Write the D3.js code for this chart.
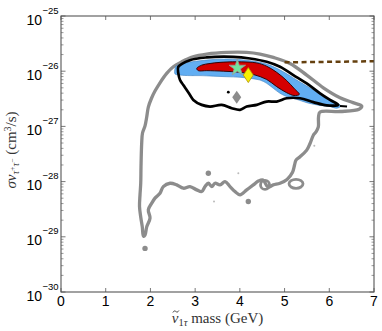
<!DOCTYPE html>
<html lang="en">
<head>
<meta charset="UTF-8">
<title>Sneutrino mass vs cross section</title>
<script src="https://d3js.org/d3.v7.min.js"></script>
<style>
  body { margin: 0; background: #fff; }
  svg { display: block; }
  .tick-label { font-family: "Liberation Sans", Arial, sans-serif; fill: #000; }
  .axis-title { font-family: "Liberation Serif", "DejaVu Serif", serif; fill: #333; }
</style>
</head>
<body>
<script>
// axis setup
const xTicks = [0, 1, 2, 3, 4, 5, 6, 7];
const yDecades = [-30, -29, -28, -27, -26, -25];

// contours as [mass (GeV), log10(sigma v)]
const greyContour = [
  [1.845, -28.99], [1.818, -28.82], [1.783, -28.64], [1.756, -28.45], [1.767, -28.24],
  [1.783, -28.03], [1.789, -27.74], [1.805, -27.30], [1.823, -27.12], [1.879, -26.99],
  [1.917, -26.83], [1.953, -26.65], [2.024, -26.49], [2.102, -26.36], [2.214, -26.21],
  [2.364, -26.04], [2.512, -25.92], [2.700, -25.83], [2.952, -25.74], [3.259, -25.69],
  [3.706, -25.66], [4.153, -25.66], [4.451, -25.69], [4.748, -25.75], [5.122, -25.86],
  [5.495, -26.07], [5.867, -26.30], [6.240, -26.48], [6.531, -26.57], [6.726, -26.63],
  [6.665, -26.69], [6.240, -26.73], [5.793, -26.74], [5.759, -26.83], [5.755, -27.01],
  [5.703, -27.10], [5.643, -27.16], [5.569, -27.31], [5.495, -27.43], [5.346, -27.55],
  [5.256, -27.61], [5.223, -27.70], [5.178, -27.83], [5.055, -27.96], [4.898, -28.03],
  [4.748, -28.06], [4.630, -28.10], [4.518, -27.97], [4.413, -27.99], [4.301, -28.06],
  [4.153, -28.15], [4.004, -28.24], [3.892, -28.18], [3.780, -28.09], [3.668, -28.00],
  [3.556, -28.06], [3.444, -28.03], [3.371, -28.09], [3.295, -28.03], [3.221, -28.09],
  [3.147, -28.18], [3.035, -28.15], [2.885, -28.09], [2.735, -28.12], [2.588, -28.06],
  [2.438, -28.03], [2.288, -28.09], [2.214, -28.21], [2.102, -28.30], [2.029, -28.39],
  [1.953, -28.51], [1.991, -28.66], [1.917, -28.82], [1.879, -28.97]
];

// little closed loops and specks of the grey contour: [mass, log10, rx, ry]
const greyLoops = [
  [5.256, -28.04, 7, 4.5],
  [4.563, -28.06, 4.5, 4.5]
];
const greyDots = [
  [4.189, -28.36], [3.295, -27.85], [1.879, -29.21]
];
const greySpecks = [
  [3.966, -27.85], [3.422, -28.36], [5.665, -27.35]
];

const blackContour = [
  [2.624, -25.92], [2.885, -25.80], [3.259, -25.75], [3.854, -25.74], [4.227, -25.77],
  [4.601, -25.83], [4.898, -25.92], [5.196, -26.07], [5.495, -26.22], [5.793, -26.40],
  [6.017, -26.52], [6.202, -26.61], [5.943, -26.62], [5.643, -26.56], [5.346, -26.49],
  [5.048, -26.49], [4.824, -26.55], [4.601, -26.55], [4.377, -26.61], [4.153, -26.64],
  [4.004, -26.70], [3.818, -26.67], [3.594, -26.61], [3.333, -26.64], [3.147, -26.61],
  [2.959, -26.52], [2.885, -26.43], [2.811, -26.34], [2.735, -26.25], [2.662, -26.16],
  [2.624, -26.04]
];
const blackTail = [[6.240, -26.63], [6.397, -26.64]];
const blackDot = [3.742, -26.38];

const blueRegion = [
  [2.550, -25.95], [2.572, -25.91], [2.735, -25.86], [3.109, -25.81], [3.706, -25.78],
  [4.227, -25.81], [4.601, -25.87], [4.972, -26.01], [5.272, -26.16], [5.643, -26.34],
  [5.943, -26.49], [6.166, -26.58], [6.263, -26.63], [6.166, -26.67], [6.017, -26.64],
  [5.793, -26.62], [5.495, -26.57], [5.272, -26.51], [5.048, -26.46], [4.898, -26.40],
  [4.748, -26.31], [4.601, -26.22], [4.451, -26.16], [4.227, -26.13], [4.004, -26.11],
  [3.706, -26.10], [3.406, -26.09], [3.109, -26.08], [2.885, -26.08], [2.662, -26.07],
  [2.550, -26.05]
];

const redRegion = [
  [3.035, -25.95], [3.147, -25.89], [3.333, -25.86], [3.556, -25.84], [3.930, -25.83],
  [4.377, -25.85], [4.601, -25.91], [4.824, -26.02], [5.048, -26.17], [5.211, -26.31],
  [5.330, -26.42], [5.211, -26.44], [5.048, -26.39], [4.824, -26.28], [4.601, -26.15],
  [4.301, -26.06], [4.004, -26.02], [3.630, -26.00], [3.259, -25.99], [3.071, -25.99]
];

// best fit points
const starPoint = [3.943, -25.94];
const yellowDiamond = [4.189, -26.07];
const greyDiamond = [3.930, -26.47];

// dashed limit line
const limitLine = [[5.0, -25.84], [7.0, -25.82]];

const W = 382, H = 331;
const margin = {top: 16, right: 8, bottom: 39, left: 61};

const svg = d3.select("body").append("svg")
  .attr("width", W)
  .attr("height", H);

const x = d3.scaleLinear().domain([0, 7]).range([margin.left, W - margin.right]);
const y = d3.scaleLog().domain([1e-30, 1e-25]).range([H - margin.bottom, margin.top]);
const px = d => x(d[0]);
const py = d => y(Math.pow(10, d[1]));

const closedLine = d3.line().x(px).y(py).curve(d3.curveCatmullRomClosed.alpha(0.5));

// grey outer contour
const plot = svg.append("g");
plot.append("path")
  .attr("d", closedLine(greyContour))
  .attr("fill", "none")
  .attr("stroke", "#8c8c8c")
  .attr("stroke-width", 3.3)
  .attr("stroke-linejoin", "round");

plot.selectAll(".loop").data(greyLoops).enter().append("ellipse")
  .attr("cx", px).attr("cy", py)
  .attr("rx", d => d[2]).attr("ry", d => d[3])
  .attr("fill", "none").attr("stroke", "#8c8c8c").attr("stroke-width", 2.8);

plot.selectAll(".gdot").data(greyDots).enter().append("circle")
  .attr("cx", px).attr("cy", py).attr("r", 2.7).attr("fill", "#8c8c8c");

plot.selectAll(".gspeck").data(greySpecks).enter().append("circle")
  .attr("cx", px).attr("cy", py).attr("r", 1).attr("fill", "#bbb");

// blue region
plot.append("path")
  .attr("d", closedLine(blueRegion))
  .attr("fill", "#62aef2")
  .attr("stroke", "#3d7fc0")
  .attr("stroke-width", 0.6);

// black contour
plot.append("path")
  .attr("d", closedLine(blackContour))
  .attr("fill", "none")
  .attr("stroke", "#000")
  .attr("stroke-width", 2.7)
  .attr("stroke-linejoin", "round");

plot.append("path")
  .attr("d", d3.line().x(px).y(py)(blackTail))
  .attr("stroke", "#000").attr("stroke-width", 2);

plot.append("circle")
  .attr("cx", px(blackDot)).attr("cy", py(blackDot)).attr("r", 1.4).attr("fill", "#000");

// red region
plot.append("path")
  .attr("d", closedLine(redRegion))
  .attr("fill", "#d40000")
  .attr("stroke", "#200")
  .attr("stroke-width", 0.9);

// dashed line
plot.append("path")
  .attr("d", d3.line().x(px).y(py)(limitLine))
  .attr("stroke", "#65400f")
  .attr("stroke-width", 2.5)
  .attr("stroke-dasharray", "5,3.5")
  .attr("fill", "none");

// markers
const diamond = (w, h) => `M0,${-h}L${w},0L0,${h}L${-w},0Z`;
plot.append("path")
  .attr("d", diamond(4.5, 6.5))
  .attr("transform", `translate(${px(greyDiamond)},${py(greyDiamond)})`)
  .attr("fill", "#8c8c8c");

plot.append("path")
  .attr("d", diamond(5, 7.5))
  .attr("transform", `translate(${px(yellowDiamond)},${py(yellowDiamond)})`)
  .attr("fill", "#f7f000")
  .attr("stroke", "#b09000")
  .attr("stroke-width", 0.8);

plot.append("path")
  .attr("d", d3.symbol().type(d3.symbolStar).size(85)())
  .attr("transform", `translate(${px(starPoint)},${py(starPoint)})`)
  .attr("fill", "#72e39c")
  .attr("stroke", "#9a9a9a")
  .attr("stroke-width", 0.8);

// frame
const x0 = x.range()[0], x1 = x.range()[1];
const y0 = y.range()[0], y1 = y.range()[1];
const axes = svg.append("g").attr("stroke", "#555").attr("fill", "none");
axes.append("rect")
  .attr("x", x0).attr("y", y1)
  .attr("width", x1 - x0).attr("height", y0 - y1)
  .attr("stroke-width", 1.1);

// x ticks (inward, bottom and top)
xTicks.forEach(t => {
  axes.append("line").attr("x1", x(t)).attr("x2", x(t)).attr("y1", y0).attr("y2", y0 - 4).attr("stroke-width", 0.8);
  axes.append("line").attr("x1", x(t)).attr("x2", x(t)).attr("y1", y1).attr("y2", y1 + 4).attr("stroke-width", 0.8);
});

// y ticks, major and minor, on both sides
yDecades.forEach(d => {
  const v = Math.pow(10, d);
  [[x0, 1], [x1, -1]].forEach(([xx, s]) => {
    axes.append("line").attr("x1", xx).attr("x2", xx + s * 4.5).attr("y1", y(v)).attr("y2", y(v)).attr("stroke-width", 0.8);
  });
  if (d < -25) {
    for (let k = 2; k <= 9; k++) {
      const yy = y(k * v);
      [[x0, 1], [x1, -1]].forEach(([xx, s]) => {
        axes.append("line").attr("x1", xx).attr("x2", xx + s * 2.5).attr("y1", yy).attr("y2", yy).attr("stroke-width", 0.6);
      });
    }
  }
});

// tick labels
svg.selectAll(".xl").data(xTicks).enter().append("text")
  .attr("class", "tick-label")
  .attr("x", d => x(d)).attr("y", y0 + 13.5)
  .attr("text-anchor", "middle")
  .attr("font-size", 14)
  .text(d => d);

yDecades.forEach(d => {
  const yy = y(Math.pow(10, d));
  svg.append("text").attr("class", "tick-label")
    .attr("x", 42).attr("y", yy + 8.5)
    .attr("text-anchor", "end").attr("font-size", 14).text("10");
  svg.append("text").attr("class", "tick-label")
    .attr("x", 42.5).attr("y", yy - 2.5)
    .attr("font-size", 9.5).text("\u2212" + (-d));
});

// axis titles
const xt = svg.append("text").attr("class", "axis-title")
  .attr("x", (x0 + x1) / 2).attr("y", 323)
  .attr("text-anchor", "middle").attr("font-size", 15);
xt.append("tspan").attr("font-style", "italic").text("\u03bd");
xt.append("tspan").attr("font-size", 10.5).attr("dy", 3).text("1");
xt.append("tspan").attr("font-size", 10.5).attr("font-style", "italic").text("\u03c4");
xt.append("tspan").attr("dy", -3).text(" mass (GeV)");

// tilde accent over the nu, drawn as a small stroke
const nuBox = xt.node().getExtentOfChar(0);
const tx = nuBox.x + nuBox.width / 2 + 0.8, ty = nuBox.y + 1.5;
svg.append("path")
  .attr("d", `M${tx - 3},${ty + 1} C${tx - 1.8},${ty - 1.2} ${tx - 0.8},${ty - 0.6} ${tx},${ty}` +
             ` S${tx + 1.8},${ty + 1.2} ${tx + 3},${ty - 1}`)
  .attr("fill", "none")
  .attr("stroke", "#333")
  .attr("stroke-width", 0.9);

const yt = svg.append("text").attr("class", "axis-title")
  .attr("transform", `translate(16,${(y0 + y1) / 2 - 4}) rotate(-90)`)
  .attr("text-anchor", "middle").attr("font-size", 15);
yt.append("tspan").attr("font-style", "italic").text("\u03c3v");
yt.append("tspan").attr("font-size", 10.5).attr("font-style", "italic").attr("dy", 3).text("\u03c4");
yt.append("tspan").attr("font-size", 7.5).attr("dy", -4).text("+");
yt.append("tspan").attr("font-size", 10.5).attr("font-style", "italic").attr("dy", 4).text("\u03c4");
yt.append("tspan").attr("font-size", 7.5).attr("dy", -4).text("\u2212");
yt.append("tspan").attr("dy", 1).text("  (cm");
yt.append("tspan").attr("font-size", 10).attr("dy", -5).text("3");
yt.append("tspan").attr("dy", 5).text("/s)");
</script>
</body>
</html>
